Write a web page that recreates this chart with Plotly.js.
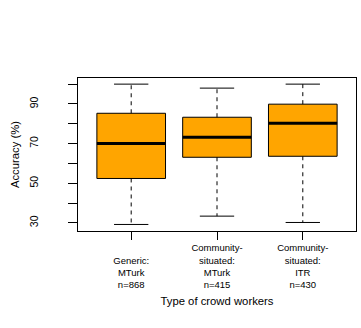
<!DOCTYPE html>
<html>
<head>
<meta charset="utf-8">
<script src="https://cdn.plot.ly/plotly-3.0.1.min.js"></script>
<style>html,body{margin:0;padding:0;background:#fff;}#chart{width:361px;height:328px;}</style>
</head>
<body>
<div id="chart"></div>
<script>
// Data
var tickLabels = ["<br>Generic:<br>MTurk<br>n=868", "Community-<br>situated:<br>MTurk<br>n=415", "Community-<br>situated:<br>ITR<br>n=430"];
var positions = [1, 2, 3];
var lowerWhisker = [29.2, 33.4, 30.2];
var q1 = [52.4, 63.1, 63.6];
var median = [70.1, 73.2, 80.3];
var q3 = [85.3, 83.3, 89.9];
var upperWhisker = [100, 98.0, 100];
var yTickVals = [30, 40, 50, 60, 70, 80, 90, 100];
var yTickText = ["30", "", "50", "", "70", "", "90", ""];

var boxHalf = 0.4, capHalf = 0.2;
var FONT = "Liberation Sans, Arial, Helvetica, sans-serif";

var heights = q3.map(function (v, i) { return v - q1[i]; });

var wx = [], wy = [], cx = [], cy = [], mx = [], my = [];
positions.forEach(function (p, i) {
  wx.push(p, p, null, p, p, null);
  wy.push(q3[i], upperWhisker[i], null, q1[i], lowerWhisker[i], null);
  cx.push(p - capHalf, p + capHalf, null, p - capHalf, p + capHalf, null);
  cy.push(upperWhisker[i], upperWhisker[i], null, lowerWhisker[i], lowerWhisker[i], null);
  mx.push(p - boxHalf, p + boxHalf, null);
  my.push(median[i], median[i], null);
});

var traces = [
  {type: "scatter", mode: "lines", x: wx, y: wy, line: {color: "#000", width: 1, dash: "4px,4px"}, hoverinfo: "skip"},
  {type: "scatter", mode: "lines", x: cx, y: cy, line: {color: "#000", width: 1}, hoverinfo: "skip"},
  {type: "bar", x: positions, y: heights, base: q1, width: 2 * boxHalf,
   marker: {color: "#FFA500", line: {color: "#000", width: 1}}},
  {type: "scatter", mode: "lines", x: mx, y: my, line: {color: "#000", width: 3}, hoverinfo: "skip"}
];

var layout = {
  width: 361, height: 328,
  margin: {l: 78, r: 5, t: 78, b: 97},
  paper_bgcolor: "#fff", plot_bgcolor: "#fff",
  showlegend: false,
  font: {family: FONT, color: "#000", size: 10.5},
  xaxis: {
    range: [0.38, 3.62], showgrid: false, zeroline: false,
    showline: true, mirror: true, linecolor: "#000", linewidth: 1,
    tickmode: "array", tickvals: positions, ticktext: tickLabels,
    ticks: "outside", ticklen: 8, tickcolor: "#000", tickwidth: 1,
    tickfont: {family: FONT, size: 9.5, color: "#000"},
    title: {text: "Type of crowd workers", font: {family: FONT, size: 11.3, color: "#000"}, standoff: 7}
  },
  yaxis: {
    range: [25.9, 103.1], showgrid: false, zeroline: false,
    showline: true, mirror: true, linecolor: "#000", linewidth: 1,
    tickmode: "array", tickvals: yTickVals, ticktext: yTickText,
    ticks: "outside", ticklen: 9, tickcolor: "#000", tickwidth: 1,
    tickangle: -90, ticklabelstandoff: 26,
    tickfont: {family: FONT, size: 10.5, color: "#000"},
    title: {text: "Accuracy (%)", font: {family: FONT, size: 11.3, color: "#000"}, standoff: 5}
  }
};

Plotly.newPlot("chart", traces, layout, {displayModeBar: false, staticPlot: true});
</script>
</body>
</html>
